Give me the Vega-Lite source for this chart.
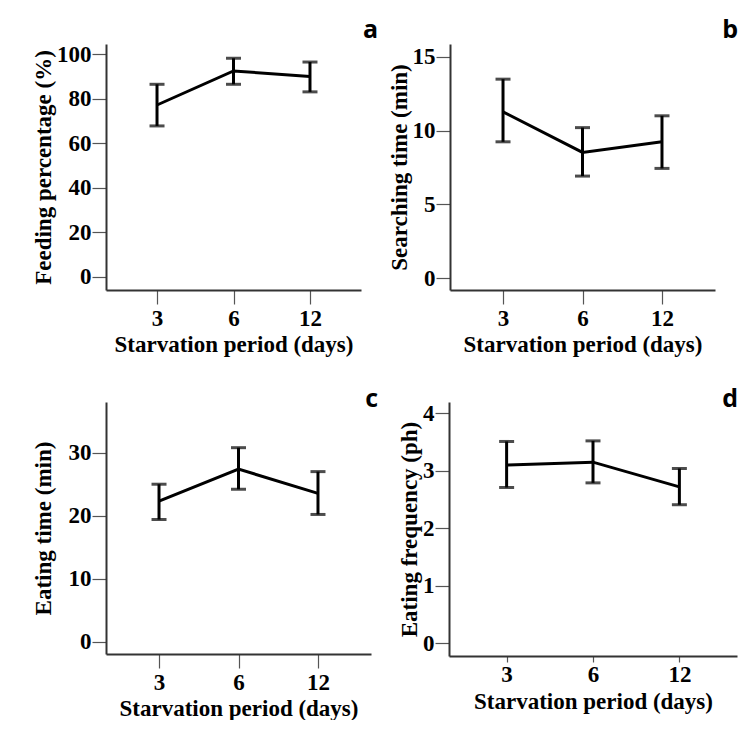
{
  "$schema": "https://vega.github.io/schema/vega-lite/v6.json",
  "background": "white",
  "padding": {"left": 31, "top": 18, "right": 0, "bottom": 0},
  "spacing": 31,
  "datasets": {
    "pts": [
      {"panel": "a", "days": "3", "mean": 77.2, "lo": 67.8, "hi": 86.5},
      {"panel": "a", "days": "6", "mean": 92.5, "lo": 86.5, "hi": 98.2},
      {"panel": "a", "days": "12", "mean": 90.0, "lo": 83.1, "hi": 96.5},
      {"panel": "b", "days": "3", "mean": 11.27, "lo": 9.24, "hi": 13.48},
      {"panel": "b", "days": "6", "mean": 8.52, "lo": 6.92, "hi": 10.2},
      {"panel": "b", "days": "12", "mean": 9.24, "lo": 7.44, "hi": 11.0},
      {"panel": "c", "days": "3", "mean": 22.3, "lo": 19.4, "hi": 25.0},
      {"panel": "c", "days": "6", "mean": 27.4, "lo": 24.2, "hi": 30.8},
      {"panel": "c", "days": "12", "mean": 23.55, "lo": 20.2, "hi": 27.0},
      {"panel": "d", "days": "3", "mean": 3.10, "lo": 2.71, "hi": 3.51},
      {"panel": "d", "days": "6", "mean": 3.15, "lo": 2.79, "hi": 3.52},
      {"panel": "d", "days": "12", "mean": 2.72, "lo": 2.41, "hi": 3.04}
    ]
  },
  "config": {
    "view": {"stroke": null},
    "axis": {
      "grid": false,
      "domainColor": "#333333",
      "domainWidth": 2,
      "tickColor": "#555555",
      "tickWidth": 1.2,
      "tickSize": 14,
      "labelFont": "Liberation Serif",
      "labelFontWeight": "bold",
      "labelFontSize": 23,
      "labelColor": "black",
      "titleFont": "Liberation Serif",
      "titleFontWeight": "bold",
      "titleFontSize": 23,
      "titleColor": "black"
    },
    "axisX": {"labelAngle": 0, "labelPadding": 3, "titlePadding": 3},
    "axisY": {"labelPadding": 1, "titlePadding": 1, "minExtent": 50, "format": "d"},
    "title": {
      "font": "Open Sans",
      "fontSize": 25,
      "fontWeight": "bold",
      "color": "black",
      "anchor": "end",
      "baseline": "alphabetic"
    }
  },
  "vconcat": [
    {
      "hconcat": [
        {
          "width": 255,
          "height": 246,
          "title": {"text": "a", "dx": 17, "offset": 0},
          "data": {"name": "pts"},
          "transform": [{"filter": "datum.panel === 'a'"}],
          "encoding": {
            "x": {"field": "days", "type": "ordinal", "sort": ["3", "6", "12"], "scale": {"type": "point", "padding": 0.667}, "title": "Starvation period (days)"}
          },
          "layer": [
            {
              "mark": {"type": "errorbar", "ticks": {"size": 15, "thickness": 3, "color": "black"}, "rule": {"strokeWidth": 3, "color": "black"}},
              "encoding": {
                "y": {"field": "lo", "type": "quantitative", "scale": {"domain": [-5.9, 104.6], "nice": false, "zero": false}, "axis": {"values": [0, 20, 40, 60, 80, 100]}, "title": "Feeding percentage (%)"},
                "y2": {"field": "hi"}
              }
            },
            {
              "mark": {"type": "line", "color": "black", "strokeWidth": 3},
              "encoding": {"y": {"field": "mean", "type": "quantitative"}}
            }
          ]
        },
        {
          "width": 265,
          "height": 246,
          "title": {"text": "b", "dx": 23, "offset": 1},
          "data": {"name": "pts"},
          "transform": [{"filter": "datum.panel === 'b'"}],
          "encoding": {
            "x": {"field": "days", "type": "ordinal", "sort": ["3", "6", "12"], "scale": {"type": "point", "padding": 0.667}, "title": "Starvation period (days)"}
          },
          "layer": [
            {
              "mark": {"type": "errorbar", "ticks": {"size": 15, "thickness": 3, "color": "black"}, "rule": {"strokeWidth": 3, "color": "black"}},
              "encoding": {
                "y": {"field": "lo", "type": "quantitative", "scale": {"domain": [-0.79, 15.86], "nice": false, "zero": false}, "axis": {"values": [0, 5, 10, 15], "minExtent": 0}, "title": "Searching time (min)"},
                "y2": {"field": "hi"}
              }
            },
            {
              "mark": {"type": "line", "color": "black", "strokeWidth": 3},
              "encoding": {"y": {"field": "mean", "type": "quantitative"}}
            }
          ]
        }
      ],
      "spacing": 89,
      "bounds": "flush"
    },
    {
      "hconcat": [
        {
          "width": 265,
          "height": 252,
          "title": {"text": "c", "dx": 7, "offset": -10},
          "data": {"name": "pts"},
          "transform": [{"filter": "datum.panel === 'c'"}],
          "encoding": {
            "x": {"field": "days", "type": "ordinal", "sort": ["3", "6", "12"], "scale": {"type": "point", "padding": 0.667}, "title": "Starvation period (days)"}
          },
          "layer": [
            {
              "mark": {"type": "errorbar", "ticks": {"size": 15, "thickness": 3, "color": "black"}, "rule": {"strokeWidth": 3, "color": "black"}},
              "encoding": {
                "y": {"field": "lo", "type": "quantitative", "scale": {"domain": [-1.95, 38.05], "nice": false, "zero": false}, "axis": {"values": [0, 10, 20, 30]}, "title": "Eating time (min)"},
                "y2": {"field": "hi"}
              }
            },
            {
              "mark": {"type": "line", "color": "black", "strokeWidth": 3},
              "encoding": {"y": {"field": "mean", "type": "quantitative"}}
            }
          ]
        },
        {
          "width": 288,
          "height": 254,
          "title": {"text": "d", "dx": 1, "offset": -10},
          "data": {"name": "pts"},
          "transform": [{"filter": "datum.panel === 'd'"}],
          "encoding": {
            "x": {"field": "days", "type": "ordinal", "sort": ["3", "6", "12"], "scale": {"type": "point", "padding": 0.667}, "title": "Starvation period (days)", "axis": {"tickSize": 6, "labelPadding": 1, "titlePadding": 4}}
          },
          "layer": [
            {
              "mark": {"type": "errorbar", "ticks": {"size": 15, "thickness": 3, "color": "black"}, "rule": {"strokeWidth": 3, "color": "black"}},
              "encoding": {
                "y": {"field": "lo", "type": "quantitative", "scale": {"domain": [-0.22, 4.196], "nice": false, "zero": false}, "axis": {"values": [0, 1, 2, 3, 4], "minExtent": 0}, "title": "Eating frequency (ph)"},
                "y2": {"field": "hi"}
              }
            },
            {
              "mark": {"type": "line", "color": "black", "strokeWidth": 3},
              "encoding": {"y": {"field": "mean", "type": "quantitative"}}
            }
          ]
        }
      ],
      "spacing": 78,
      "bounds": "flush"
    }
  ]
}
